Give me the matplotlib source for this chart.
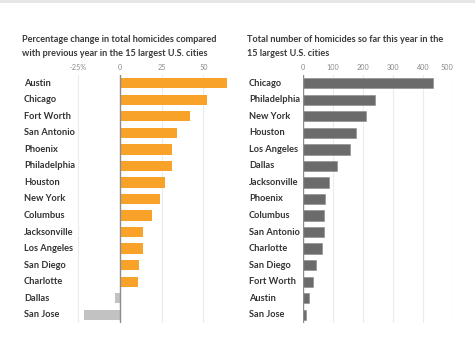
import matplotlib
matplotlib.use("Agg")
import matplotlib.pyplot as plt
from matplotlib.patches import Rectangle

plt.rcParams['font.family'] = ['Lato', 'DejaVu Sans']

# Left panel: percentage change
pct_cities = ["Austin", "Chicago", "Fort Worth", "San Antonio", "Phoenix", "Philadelphia",
              "Houston", "New York", "Columbus", "Jacksonville", "Los Angeles", "San Diego",
              "Charlotte", "Dallas", "San Jose"]
pct_values = [64.4, 52.4, 42.2, 34.0, 31.4, 31.0, 27.0, 23.8, 19.4, 14.0, 13.6, 11.4, 11.0, -3.0, -21.4]
pct_ticks = [-25, 0, 25, 50]
pct_ticklabels = ["-25%", "0", "25", "50"]

# Right panel: total homicides
tot_cities = ["Chicago", "Philadelphia", "New York", "Houston", "Los Angeles", "Dallas",
              "Jacksonville", "Phoenix", "Columbus", "San Antonio", "Charlotte", "San Diego",
              "Fort Worth", "Austin", "San Jose"]
tot_values = [431, 241, 211, 176, 156, 115, 86, 74, 72, 70, 65, 45, 35, 21, 12]
tot_ticks = [0, 100, 200, 300, 400, 500]
tot_ticklabels = ["0", "100", "200", "300", "400", "500"]

title_left = "Percentage change in total homicides compared\nwith previous year in the 15 largest U.S. cities"
title_right = "Total number of homicides so far this year in the\n15 largest U.S. cities"

W, H = 475, 350
fig = plt.figure(figsize=(W / 100, H / 100), dpi=100)
fig.patch.set_facecolor("white")
fig.patches.append(Rectangle((0, 1 - 3 / H), 1, 3 / H, transform=fig.transFigure,
                             facecolor="#e6e6e6", edgecolor="none"))

def px(x0, x1, ytop, ybot):
    return [x0 / W, 1 - ybot / H, (x1 - x0) / W, (ybot - ytop) / H]

TXT = "#333333"
axL = fig.add_axes(px(72, 230, 75, 323))
axR = fig.add_axes(px(302.7, 453.3, 75, 323))

def style(ax, xlim, ticks, ticklabels, cities, labelx):
    ax.set_xlim(*xlim)
    ax.set_ylim(len(cities) - 0.5, -0.5)
    for s in ax.spines.values():
        s.set_visible(False)
    ax.set_yticks([])
    ax.set_xticks(ticks)
    ax.set_xticklabels(ticklabels)
    ax.xaxis.tick_top()
    ax.tick_params(axis="x", length=0, pad=3, labelsize=5.2, labelcolor="#8a8a8a")
    for t in ticks:
        if t != 0:
            ax.axvline(t, color="#ececec", lw=0.8, zorder=0)
    ax.axvline(0, color="#8c8c8c", lw=1.0, zorder=3)
    for i, c in enumerate(cities):
        ax.text(labelx, i, c, transform=ax.get_yaxis_transform(), ha="left", va="center",
                fontsize=6.7, fontweight="bold", color=TXT)

style(axL, (-28.8, 66), pct_ticks, pct_ticklabels, pct_cities, (24 - 72) / (230 - 72))
colors = ["#f8a229" if v >= 0 else "#c2c2c2" for v in pct_values]
axL.barh(range(len(pct_cities)), pct_values, height=0.62, color=colors, zorder=2)

style(axR, (0, 500), tot_ticks, tot_ticklabels, tot_cities, (249 - 302.7) / (453.3 - 302.7))
axR.barh(range(len(tot_cities)), tot_values, height=0.62, color="#6b6b6b",
         edgecolor="#8a8a8a", linewidth=0.4, zorder=2)
lbls = axR.get_xticklabels()
lbls[-1].set_horizontalalignment("right")

fig.text(22 / W, 1 - 35.5 / H, title_left, ha="left", va="top", fontsize=6.6,
         fontweight="bold", color="#3a3a3a", linespacing=1.65)
fig.text(247 / W, 1 - 35.5 / H, title_right, ha="left", va="top", fontsize=6.6,
         fontweight="bold", color="#3a3a3a", linespacing=1.65)

fig.savefig("out.png", dpi=100, facecolor="white")
